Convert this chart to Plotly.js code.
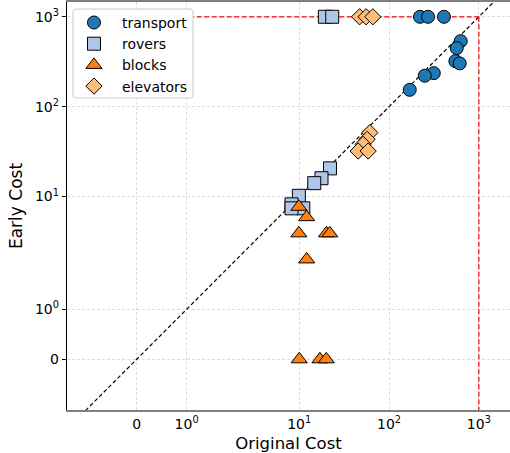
<!DOCTYPE html>
<html>
<head>
<meta charset="utf-8">
<script src="https://cdn.plot.ly/plotly-3.0.1.min.js"></script>
<style>html,body{margin:0;padding:0;background:#fff;}#chart{width:510px;height:453px;}</style>
</head>
<body>
<div id="chart"></div>
<script>
// ---- data (raw cost values) ----
const seriesNames = ["transport", "rovers", "blocks", "elevators"];

const transportOriginal = [221, 272, 409, 628, 567, 548, 612, 315, 250, 170];
const transportEarly    = [1000, 1000, 1000, 536, 448, 321, 303, 236, 221, 154];

const roversOriginal = [19.3, 23.3, 22, 17.7, 14.7, 9.9, 8.2, 11.1, 8.2];
const roversEarly    = [1000, 1000, 20.6, 16, 14.1, 10.2, 8.2, 7.4, 7.4];

const blocksOriginal = [9.9, 12.1, 9.9, 20.1, 21.9, 12.1, 10, 17, 20];
const blocksEarly    = [7.7, 5.9, 3.9, 3.9, 3.9, 2, 0, 0, 0];

const elevatorsOriginal = [47, 55.5, 66, 61.1, 57, 51.4, 45.3, 58.5];
const elevatorsEarly    = [1000, 1000, 1000, 51.4, 43.3, 38.1, 32.1, 32.1];

const tickValues = [0, 1, 10, 100, 1000];
const tickLabels = ["0", "10<sup>0</sup>", "10<sup>1</sup>", "10<sup>2</sup>", "10<sup>3</sup>"];

const capValue = 1000;          // red reference lines
const diagRange = [-3, 5000];   // y = x reference line extent

// ---- symmetric log transform (linthresh 2, linscale 1) ----
const LINTHRESH = 2, LINSCALE_ADJ = 1 / (1 - 1 / 10);
function symlog(v) {
  const a = Math.abs(v);
  if (a <= LINTHRESH) return v * LINSCALE_ADJ;
  return Math.sign(v) * LINTHRESH * (LINSCALE_ADJ + Math.log10(a / LINTHRESH));
}
const T = arr => arr.map(symlog);

const font = "DejaVu Sans, Arial, sans-serif";
const edge = {color: "#000", width: 1};

const traces = [
  {x: T(diagRange), y: T(diagRange), mode: "lines", showlegend: false, hoverinfo: "skip",
   line: {color: "#000", width: 1.2, dash: "4px,2.5px"}},
  {x: T([0, capValue]), y: T([capValue, capValue]), mode: "lines", showlegend: false, hoverinfo: "skip",
   line: {color: "#ff0000", width: 1.2, dash: "5px,2.5px"}},
  {x: T([capValue, capValue]), y: T([capValue, -5]), mode: "lines", showlegend: false, hoverinfo: "skip",
   line: {color: "#ff0000", width: 1.2, dash: "5px,2.5px"}},
  {name: seriesNames[0], x: T(transportOriginal), y: T(transportEarly), mode: "markers",
   marker: {symbol: "circle", size: 13, color: "#1f77b4", line: edge}},
  {name: seriesNames[1], x: T(roversOriginal), y: T(roversEarly), mode: "markers",
   marker: {symbol: "square", size: 13, color: "#aec7e8", line: edge}},
  {name: seriesNames[2], x: T(blocksOriginal), y: T(blocksEarly), mode: "markers",
   marker: {symbol: "triangle-up", size: 14, color: "#ff7f0e", line: edge}},
  {name: seriesNames[3], x: T(elevatorsOriginal), y: T(elevatorsEarly), mode: "markers",
   marker: {symbol: "diamond", size: 12.5, color: "#ffbb78", line: edge}}
];

// legend frame (paper coordinates) with slightly rounded corners
const bx0 = 0.0135, bx1 = 0.2844, by0 = 0.7647, by1 = 0.9828, rx = 3 / 443, ry = 3 / 408;
const framePath =
  `M ${bx0 + rx},${by1} L ${bx1 - rx},${by1} Q ${bx1},${by1} ${bx1},${by1 - ry} ` +
  `L ${bx1},${by0 + ry} Q ${bx1},${by0} ${bx1 - rx},${by0} L ${bx0 + rx},${by0} ` +
  `Q ${bx0},${by0} ${bx0},${by0 + ry} L ${bx0},${by1 - ry} Q ${bx0},${by1} ${bx0 + rx},${by1} Z`;

const layout = {
  width: 510, height: 453,
  margin: {l: 67, r: 0, t: 2, b: 43, pad: 0},
  paper_bgcolor: "#fff", plot_bgcolor: "#fff",
  font: {family: font, size: 14, color: "#000"},
  showlegend: true,
  legend: {x: -0.0023, y: 0.988, xanchor: "left", yanchor: "top", itemwidth: 46,
           bgcolor: "rgba(0,0,0,0)", borderwidth: 0,
           font: {family: font, size: 14, color: "#000"}},
  shapes: [{type: "path", xref: "paper", yref: "paper", path: framePath, layer: "above",
            fillcolor: "#ffffff", line: {color: "#cccccc", width: 1}}],
  xaxis: {
    range: [-1.552, 8.314], tickmode: "array", tickvals: T(tickValues), ticktext: tickLabels,
    showgrid: true, gridcolor: "#dddddd", gridwidth: 1, griddash: "3px,2px",
    zeroline: false, showline: true, linecolor: "#808080", linewidth: 2, mirror: true,
    ticks: "", tickfont: {family: font, size: 14, color: "#000"},
    title: {text: "Original Cost", font: {family: font, size: 16.5, color: "#000"}, standoff: 8}
  },
  yaxis: {
    range: [-1.128, 7.949], tickmode: "array", tickvals: T(tickValues), ticktext: tickLabels,
    showgrid: true, gridcolor: "#dddddd", gridwidth: 1, griddash: "3px,2px",
    zeroline: false, showline: true, linecolor: "#000", linewidth: 1.2, mirror: false,
    ticks: "outside", ticklen: 4, tickcolor: "#000", tickwidth: 1,
    tickfont: {family: font, size: 14, color: "#000"},
    title: {text: "Early Cost", font: {family: font, size: 17, color: "#000"}, standoff: 8}
  }
};

Plotly.newPlot("chart", traces, layout, {displayModeBar: false, staticPlot: true});
</script>
</body>
</html>
